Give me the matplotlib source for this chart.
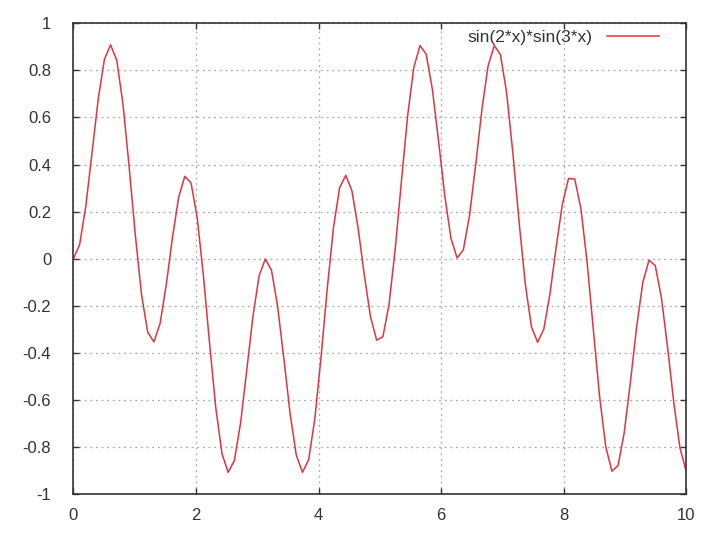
import matplotlib
matplotlib.use("Agg")
import matplotlib.pyplot as plt
import numpy as np

# y values, 100 samples across [0, 10]
y_vals = [
    0.000, 0.060, 0.224, 0.449, 0.677, 0.846, 0.908, 0.842, 0.657, 0.390,
    0.100, -0.152, -0.312, -0.353, -0.275, -0.110, 0.090, 0.261, 0.350, 0.322,
    0.173, -0.072, -0.361, -0.633, -0.828, -0.907, -0.857, -0.698, -0.474, -0.245,
    -0.072, -0.001, -0.049, -0.204, -0.425, -0.656, -0.833, -0.907, -0.854, -0.680,
    -0.420, -0.129, 0.129, 0.301, 0.354, 0.288, 0.129, -0.070, -0.247, -0.346,
    -0.331, -0.193, 0.044, 0.331, 0.607, 0.813, 0.905, 0.868, 0.718, 0.498,
    0.267, 0.086, 0.003, 0.038, 0.184, 0.401, 0.634, 0.819, 0.905, 0.866,
    0.703, 0.449, 0.158, -0.106, -0.289, -0.355, -0.299, -0.148, 0.050, 0.232,
    0.341, 0.338, 0.212, -0.016, -0.301, -0.582, -0.797, -0.902, -0.878, -0.737,
    -0.522, -0.289, -0.100, -0.006, -0.029, -0.165, -0.377, -0.611, -0.804, -0.902,
]
x_vals = np.linspace(0, 10, len(y_vals))

x_ticks = [0, 2, 4, 6, 8, 10]
y_ticks = [-1, -0.8, -0.6, -0.4, -0.2, 0, 0.2, 0.4, 0.6, 0.8, 1]
y_labels = ["-1", "-0.8", "-0.6", "-0.4", "-0.2", "0", "0.2", "0.4", "0.6", "0.8", "1"]
series_label = "sin(2*x)*sin(3*x)"

plt.rcParams["font.family"] = ["Liberation Sans", "DejaVu Sans"]

fig = plt.figure(figsize=(7.2, 5.39), dpi=100)
ax = fig.add_axes([0.102, 0.083, 0.851, 0.874])

ax.plot(x_vals, y_vals, color="#e2343f", linewidth=1.1, label=series_label)

ax.set_xlim(0, 10)
ax.set_ylim(-1, 1)
ax.set_xticks(x_ticks)
ax.set_yticks(y_ticks)
ax.set_yticklabels(y_labels)

ax.grid(True, color="#a8a8a8", linestyle=(0, (1.5, 3)), linewidth=0.9)
ax.tick_params(direction="in", length=4, width=1, top=True, right=True,
               labelsize=12, colors="#333333")
ax.tick_params(axis="y", pad=16)
ax.tick_params(axis="x", pad=10)
for sp in ax.spines.values():
    sp.set_color("#333333")
    sp.set_linewidth(1.2)

leg = ax.legend(loc="upper right", frameon=False, fontsize=12.5,
                handlelength=3.0, handletextpad=0.8,
                markerfirst=False, borderaxespad=0.3,
                bbox_to_anchor=(0.975, 1.012))
for t in leg.get_texts():
    t.set_color("#333333")

fig.savefig("out.png", dpi=100, facecolor="white")
